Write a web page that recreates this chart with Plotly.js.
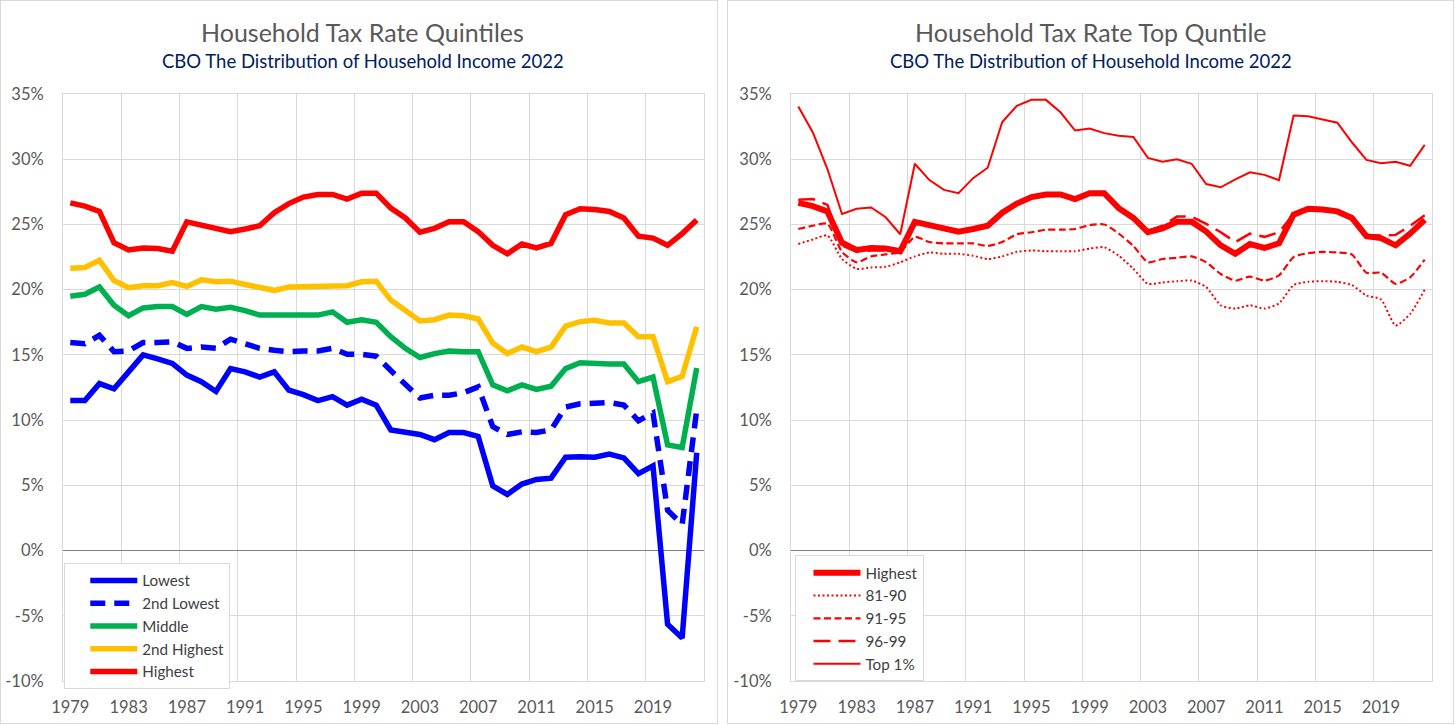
<!DOCTYPE html>
<html><head><meta charset="utf-8">
<script src="https://cdn.plot.ly/plotly-3.0.1.min.js"></script>
<style>
body{margin:0;background:#fff;width:1456px;height:725px;position:relative;overflow:hidden}
#c1{position:absolute;left:0;top:0;width:716px;height:722px;border:1px solid #d9d9d9}
#c2{position:absolute;left:727px;top:0;width:725px;height:722px;border:1px solid #d9d9d9}
</style></head><body>
<div id="c1"></div><div id="c2"></div>
<script>
const years = ["1979","1980","1981","1982","1983","1984","1985","1986","1987","1988","1989","1990","1991","1992","1993","1994","1995","1996","1997","1998","1999","2000","2001","2002","2003","2004","2005","2006","2007","2008","2009","2010","2011","2012","2013","2014","2015","2016","2017","2018","2019","2020","2021","2022"];

const lowest = [11.5,11.5,12.8,12.4,13.7,15.0,14.7,14.35,13.45,12.95,12.2,13.95,13.7,13.3,13.7,12.3,11.95,11.5,11.8,11.15,11.6,11.15,9.25,9.1,8.9,8.5,9.05,9.05,8.75,4.95,4.3,5.1,5.45,5.55,7.15,7.2,7.15,7.4,7.1,5.9,6.5,-5.65,-6.7,7.5];
const secondLowest = [15.95,15.85,16.5,15.25,15.3,15.95,15.95,16.0,15.5,15.6,15.5,16.2,15.85,15.5,15.35,15.25,15.3,15.3,15.5,15.05,15.05,14.9,13.8,12.8,11.7,11.9,11.9,12.1,12.55,9.5,8.9,9.1,9.05,9.25,11.0,11.25,11.3,11.35,11.15,9.95,10.55,3.1,2.0,10.8];
const middle = [19.5,19.65,20.2,18.8,18.0,18.6,18.7,18.7,18.1,18.7,18.5,18.65,18.4,18.05,18.05,18.1,18.05,18.05,18.3,17.5,17.7,17.5,16.4,15.5,14.8,15.1,15.3,15.25,15.25,12.7,12.25,12.7,12.35,12.6,13.95,14.4,14.3,14.3,14.3,12.95,13.3,8.1,7.9,14.0];
const secondHighest = [21.65,21.7,22.25,20.7,20.15,20.3,20.3,20.55,20.25,20.75,20.6,20.65,20.4,20.15,19.95,20.2,20.2,20.3,20.3,20.3,20.6,20.65,19.2,18.35,17.6,17.7,18.05,18.0,17.75,15.9,15.1,15.6,15.25,15.6,17.2,17.55,17.65,17.45,17.45,16.4,16.4,12.95,13.35,17.15];
const highest = [26.65,26.4,26.0,23.6,23.05,23.2,23.15,22.95,25.2,24.95,24.65,24.45,24.65,24.9,25.9,26.6,27.1,27.3,27.3,26.95,27.4,27.4,26.25,25.5,24.4,24.7,25.2,25.2,24.45,23.4,22.75,23.5,23.2,23.55,25.75,26.2,26.15,26.0,25.5,24.1,23.95,23.4,24.3,25.35];

const p81_90 = [23.5,23.85,24.15,22.35,21.6,21.7,21.75,22.1,22.55,22.85,22.75,22.75,22.6,22.35,22.55,22.9,23.0,22.95,22.95,22.95,23.15,23.25,22.6,21.6,20.45,20.55,20.65,20.7,20.2,18.8,18.55,18.8,18.55,18.95,20.35,20.6,20.65,20.6,20.35,19.55,19.25,17.25,18.15,20.0];
const p91_95 = [24.65,24.9,25.05,22.9,22.1,22.55,22.7,22.9,24.05,23.65,23.55,23.55,23.55,23.35,23.65,24.25,24.4,24.6,24.6,24.65,24.95,25.0,24.3,23.35,22.1,22.35,22.45,22.55,22.1,21.2,20.7,21.0,20.7,21.1,22.5,22.8,22.9,22.85,22.7,21.3,21.3,20.45,20.95,22.3];
const p96_99 = [26.9,26.95,26.5,23.4,22.9,23.0,23.0,22.8,25.1,24.9,24.6,24.4,24.6,24.8,25.8,26.5,27.0,27.2,27.2,26.85,27.3,27.3,26.2,25.5,24.5,24.9,25.6,25.6,25.05,24.4,23.65,24.3,24.05,24.4,25.8,26.2,26.2,26.0,25.6,24.2,24.15,24.2,24.9,25.7];
const top1 = [34.05,32.05,29.25,25.8,26.2,26.3,25.55,24.25,29.65,28.4,27.65,27.4,28.55,29.35,32.85,34.1,34.55,34.55,33.6,32.2,32.35,32.0,31.8,31.7,30.1,29.8,30.0,29.65,28.1,27.85,28.45,29.0,28.8,28.4,33.35,33.3,33.05,32.8,31.3,29.95,29.7,29.8,29.5,31.1];

const yTickVals = [-10,-5,0,5,10,15,20,25,30,35];
const yTickText = ["-10%","-5%","0%","5%","10%","15%","20%","25%","30%","35%"];

const FONT = "Lato, 'Open Sans', sans-serif";
const GRID = "#d9d9d9";

function baseLayout(title, sub, margin, legendBox){
  return {
    width: margin.w, height: 722,
    margin: {l: margin.l, r: margin.r, t: 93, b: 42, pad: 0},
    paper_bgcolor: "#fff", plot_bgcolor: "#fff",
    font: {family: FONT, color: "#595959"},
    showlegend: true,
    xaxis: {
      type: "category", range: [-0.5, 43.5],
      tickmode: "linear", tick0: 0, dtick: 4, tickson: "boundaries", tickangle: 0,
      showgrid: true, gridcolor: GRID, gridwidth: 1,
      showline: true, linecolor: GRID, mirror: true,
      ticks: "", ticklabelstandoff: 11,
      tickfont: {family: FONT, size: 16.5, color: "#595959"},
      fixedrange: true
    },
    yaxis: {
      range: [-10, 35], tickvals: yTickVals, ticktext: yTickText,
      showgrid: true, gridcolor: GRID, gridwidth: 1,
      zeroline: true, zerolinecolor: "#7f7f7f", zerolinewidth: 1,
      showline: true, linecolor: GRID, mirror: true,
      ticks: "outside", ticklen: 15, tickcolor: "rgba(0,0,0,0)",
      tickfont: {family: FONT, size: 16.5, color: "#595959"},
      fixedrange: true
    },
    legend: {
      x: legendBox.x, y: legendBox.y, xanchor: "left", yanchor: "top",
      bgcolor: "#fff", bordercolor: GRID, borderwidth: 1,
      font: {family: FONT, size: 15.2, color: "#404040"},
      traceorder: "normal", tracegroupgap: 0,
      itemwidth: 47, indentation: legendBox.ind,
      entrywidth: legendBox.ew, entrywidthmode: "pixels"
    },
    annotations: [
      {text: title, xref: "paper", yref: "paper", x: 0.4677, y: 1.1056, xanchor: "center", yanchor: "middle",
       showarrow: false, font: {family: FONT, size: 25, color: "#595959"}},
      {text: sub, xref: "paper", yref: "paper", x: 0.4677, y: 1.0562, xanchor: "center", yanchor: "middle",
       showarrow: false, font: {family: FONT, size: 18.5, color: "#002060"}}
    ]
  };
}

const W = 5.5;
const left = [
  {name: "Lowest", x: years, y: lowest, mode: "lines", line: {color: "#0000FF", width: W}},
  {name: "2nd Lowest", x: years, y: secondLowest, mode: "lines", line: {color: "#0000FF", width: W, dash: "15px,9px"}},
  {name: "Middle", x: years, y: middle, mode: "lines", line: {color: "#00B050", width: W}},
  {name: "2nd Highest", x: years, y: secondHighest, mode: "lines", line: {color: "#FFC000", width: W}},
  {name: "Highest", x: years, y: highest, mode: "lines", line: {color: "#FF0000", width: W}}
];
const right = [
  {name: "Highest", x: years, y: highest, mode: "lines", line: {color: "#FF0000", width: 6}},
  {name: "81-90", x: years, y: p81_90, mode: "lines", line: {color: "#FF0000", width: 2, dash: "2px,2.5px", shape: "spline", smoothing: 0.6}},
  {name: "91-95", x: years, y: p91_95, mode: "lines", line: {color: "#FF0000", width: 2.2, dash: "7px,3.5px", shape: "spline", smoothing: 0.6}},
  {name: "96-99", x: years, y: p96_99, mode: "lines", line: {color: "#FF0000", width: 2.5, dash: "17px,8px"}},
  {name: "Top 1%", x: years, y: top1, mode: "lines", line: {color: "#FF0000", width: 2}}
];

const cfg = {staticPlot: true, displayModeBar: false};
Plotly.newPlot("c1", left,
  baseLayout("Household Tax Rate Quintiles", "CBO The Distribution of Household Income 2022", {w: 716, l: 62, r: 13}, {x: 0.002, y: 0.201, ind: 20, ew: 165}), cfg);
Plotly.newPlot("c2", right,
  baseLayout("Household Tax Rate Top Quntile", "CBO The Distribution of Household Income 2022", {w: 725, l: 63, r: 21}, {x: 0.007, y: 0.214, ind: 12, ew: 125}), cfg);
</script>
</body></html>
